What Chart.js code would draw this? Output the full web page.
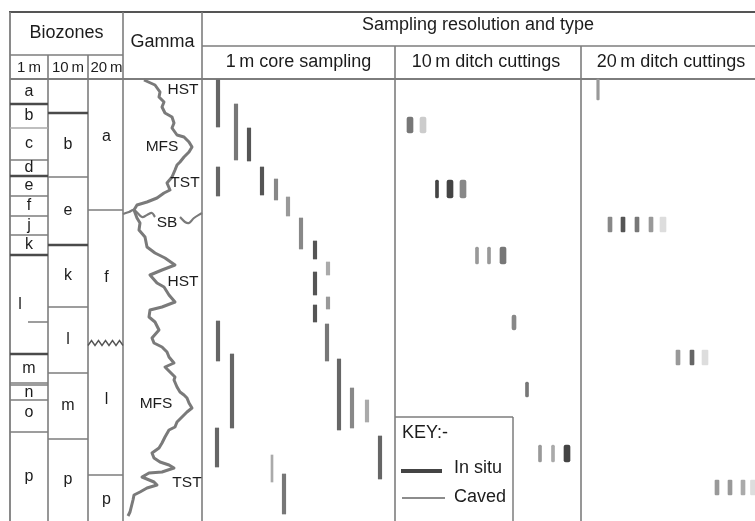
<!DOCTYPE html>
<html><head><meta charset="utf-8">
<script src="https://cdn.jsdelivr.net/npm/chart.js@4/dist/chart.umd.min.js"></script>
<style>html,body{margin:0;padding:0;background:#fff}#c{display:block}</style>
</head><body>
<canvas id="c" width="755" height="521"></canvas>
<script>
// ---------- DATA (depth units, 0 = top of logged section) ----------
const z1Names  = ['a','b','c','d','e','f','j','k','l','m','n','o','p'];
const z1Top    = [0,25,49,81,97,117,137,156,176,275,306,321,353];
const z1Base   = [25,49,81,97,117,137,156,176,275,304,321,353,442];
const z10Names = ['','b','e','k','l','m','p'];
const z10Top   = [0,34,98,166,228,294,360];
const z10Base  = [34,98,166,228,294,360,442];
const z20Names = ['a','f','l','p'];
const z20Top   = [0,131,264,396];
const z20Base  = [131,264,396,442];

// gamma-ray log (relative API units across the track) against depth
const gammaDepth = [1,6,13,18,23,28,34,38,44,49,56,58,63,68,73,78,83,86,91,98,104,111,114,119,123,126,131,139,144,151,158,168,174,179,186,191,196,204,208,216,223,228,231,238,243,251,259,264,268,273,278,284,288,293,298,301,308,313,316,319,324,329,333,338,343,348,351,358,364,369,374,379,383,386,389,393,394,398,403,406,409,413,416,421,433,437];
const gammaValue = [21,32,37,36,41,39,42,49,51,49,54,61,66,69,66,61,57,54,52,49,44,47,41,34,24,14,11,14,17,16,22,24,32,42,52,39,27,34,41,46,52,39,27,26,32,36,29,31,39,44,46,51,42,47,52,51,54,57,61,64,66,69,64,59,54,52,46,42,39,36,29,31,37,46,51,39,26,19,31,34,24,17,11,10,7,5];
// sequence boundary (SB) trace
const sbValue = [0,6,11,19,24,29,32,null,57,62,66,71,79];
const sbDepth = [135,133,131,138,136,134,138,null,138,143,144,139,134];
// sequence-stratigraphic picks
const seqLabels = ['HST','MFS','TST','SB','HST','MFS','TST'];
const seqDepth  = [11,68,104,144,203,325,404];

// 1 m core samples: top / base depth
const coreTop  = [1,25,49,88,88,100,118,139,162,183,193,218,226,245,242,275,280,309,321,349,357,376,395];
const coreBase = [48,81,82,117,116,121,137,170,180,196,216,230,243,282,282,349,351,349,343,388,400,403,435];
// 10 m ditch cuttings
const d10Top  = [38,38,101,101,101,168,168,168,236,303,366,366,366];
const d10Base = [54,54,119,119,119,185,185,185,251,318,383,383,383];
// 20 m ditch cuttings
const d20Top  = [0,138,138,138,138,138,271,271,271,401,401,401,401];
const d20Base = [21,153,153,153,153,153,286,286,286,416,416,416,416];

// ---------- LAYOUT / STYLE ----------
const COLS = {z1:[10,48], z10:[48,88], z20:[88,123], gamma:[123,202], core:[202,395], d10:[395,581], d20:[581,755]};
const coreTrack = [16,34,47,16,60,74,86,99,113,126,113,126,113,125,16,30,137,150,165,15,178,70,82];
const coreShade = ['#666','#777','#555','#666','#555','#888','#999','#888','#555','#aaa','#555','#999','#555','#777','#666','#666','#666','#888','#aaa','#666','#666','#aaa','#777'];
const coreWidth = [3.5,3.5,3.5,3.5,3.5,3.5,3.5,3.5,3.5,3.5,3.5,3.5,3.5,3.5,3.5,3.5,3.5,3.5,3.5,3.5,3.5,2,3.5];
const d10Track = [15,28,42,55,68,82,94,108,119,132,145,158,172];
const d10Shade = ['#777','#ccc','#444','#444','#888','#999','#999','#777','#888','#777','#999','#aaa','#444'];
const d10Width = [6,6,3,6,6,3,3,6,4,3,3,3,6];
const d20Track = [17,29,42,56,70,82,97,111,124,136,149,162,172];
const d20Shade = ['#999','#888','#555','#777','#999','#ddd','#999','#666','#ddd','#999','#999','#aaa','#ddd'];
const d20Width = [2.5,4,4,4,4,6,4,4,6,4,4,4,5];

const FONT = '"Liberation Sans", Arial, Helvetica, sans-serif';
const GRID = '#7d7d7d';
const DARK = '#4a4a4a';
const TXT = '#1c1c1c';

const datasets = [];
function addBars(track, tops, bases, shades, widths, col, radius) {
  track.forEach((t, i) => {
    datasets.push({
      type: 'bar',
      data: [{x: COLS[col][0] + t, y: [tops[i], bases[i]]}],
      backgroundColor: shades[i],
      barThickness: widths[i],
      grouped: false,
      borderWidth: 0,
      borderRadius: radius,
      borderSkipped: false
    });
  });
}
addBars(coreTrack, coreTop, coreBase, coreShade, coreWidth, 'core', 0);
addBars(d10Track, d10Top, d10Base, d10Shade, d10Width, 'd10', 2);
addBars(d20Track, d20Top, d20Base, d20Shade, d20Width, 'd20', 1);

datasets.push({
  type: 'line',
  data: gammaDepth.map((d, i) => ({x: COLS.gamma[0] + gammaValue[i], y: d})),
  borderColor: '#7a7a7a', borderWidth: 3, pointRadius: 0, tension: 0,
  borderJoinStyle: 'round', fill: false
});
datasets.push({
  type: 'line',
  data: sbValue.map((v, i) => ({x: COLS.gamma[0] + (v === null ? 45 : v), y: sbDepth[i]})),
  borderColor: '#7a7a7a', borderWidth: 2.2, pointRadius: 0, tension: 0.35,
  spanGaps: false, fill: false
});

function line(ctx, x1, y1, x2, y2, color, w) {
  ctx.beginPath(); ctx.strokeStyle = color; ctx.lineWidth = w;
  ctx.moveTo(x1, y1); ctx.lineTo(x2, y2); ctx.stroke();
}
function text(ctx, s, x, y, size, align) {
  ctx.font = size + 'px ' + FONT; ctx.fillStyle = TXT;
  ctx.textAlign = align || 'center'; ctx.textBaseline = 'middle';
  ctx.fillText(s, x, y);
}

const logPlugin = {
  id: 'stratLog',
  beforeDraw(chart) {
    const ctx = chart.ctx;
    ctx.save(); ctx.fillStyle = '#fff'; ctx.fillRect(0, 0, chart.width, chart.height); ctx.restore();
  },
  beforeDatasetsDraw(chart) {
    const ctx = chart.ctx, sx = chart.scales.x, sy = chart.scales.y;
    const px = v => sx.getPixelForValue(v), py = d => sy.getPixelForValue(d);
    const top = 12, bioSplit = 55, sampSplit = 46, head = py(0), bot = chart.height;
    ctx.save();
    ctx.lineCap = 'butt';
    // frame and header
    line(ctx, px(COLS.z1[0]) - 1, top, px(COLS.d20[1]), top, '#555', 2);
    line(ctx, px(COLS.z1[0]), top, px(COLS.z1[0]), bot, GRID, 1.8);
    line(ctx, px(COLS.z1[0]), bioSplit, px(COLS.gamma[0]), bioSplit, GRID, 1.6);
    line(ctx, px(COLS.core[0]), sampSplit, px(COLS.d20[1]), sampSplit, GRID, 1.6);
    line(ctx, px(COLS.z1[0]), head, px(COLS.d20[1]), head, GRID, 1.8);
    [COLS.z10[0], COLS.z20[0]].forEach(x => line(ctx, px(x), bioSplit, px(x), bot, GRID, 1.6));
    [COLS.gamma[0], COLS.core[0]].forEach(x => line(ctx, px(x), top, px(x), bot, GRID, 1.6));
    [COLS.d10[0], COLS.d20[0]].forEach(x => line(ctx, px(x), sampSplit, px(x), bot, GRID, 1.6));
    // biozone boundaries
    const bold1 = new Set([25, 97, 176, 275]);
    z1Base.forEach(b => {
      if (b >= 442) return;
      const bold = bold1.has(b);
      line(ctx, px(COLS.z1[0]), py(b), px(COLS.z1[1]), py(b), bold ? DARK : (b === 49 ? '#aaa' : GRID), bold ? 2.4 : 1.5);
    });
    line(ctx, px(COLS.z1[0]), py(306), px(COLS.z1[1]), py(306), GRID, 1.5);
    line(ctx, px(28), py(243), px(COLS.z1[1]), py(243), GRID, 1.5);
    const bold10 = new Set([34, 166]);
    z10Base.forEach(b => {
      if (b >= 442) return;
      const bold = bold10.has(b);
      line(ctx, px(COLS.z10[0]), py(b), px(COLS.z10[1]), py(b), bold ? DARK : GRID, bold ? 2.4 : 1.5);
    });
    z20Base.forEach(b => {
      if (b >= 442) return;
      if (b === 264) { // unconformable (wavy) boundary
        ctx.beginPath(); ctx.strokeStyle = '#555'; ctx.lineWidth = 1.4;
        const x0 = px(COLS.z20[0]), x1 = px(COLS.z20[1]), y = py(b);
        const n = 10;
        for (let k = 0; k <= n; k++) {
          const xx = x0 + (x1 - x0) * k / n, yy = y + (k % 2 ? -2.5 : 2.5);
          k ? ctx.lineTo(xx, yy) : ctx.moveTo(xx, yy);
        }
        ctx.stroke();
      } else {
        line(ctx, px(COLS.z20[0]), py(b), px(COLS.z20[1]), py(b), GRID, 1.6);
      }
    });
    // key box
    line(ctx, px(COLS.d10[0]), py(338), px(513), py(338), GRID, 1.5);
    line(ctx, px(513), py(338), px(513), bot, GRID, 1.5);
    ctx.restore();
  },
  afterDatasetsDraw(chart) {
    const ctx = chart.ctx, sx = chart.scales.x, sy = chart.scales.y;
    const px = v => sx.getPixelForValue(v), py = d => sy.getPixelForValue(d);
    ctx.save();
    // headers
    text(ctx, 'Biozones', (px(COLS.z1[0]) + px(COLS.gamma[0])) / 2, 33, 18);
    text(ctx, 'Gamma', (px(COLS.gamma[0]) + px(COLS.gamma[1])) / 2, 42, 18);
    text(ctx, '1\u2009m', (px(COLS.z1[0]) + px(COLS.z1[1])) / 2, 68, 15);
    text(ctx, '10\u2009m', (px(COLS.z10[0]) + px(COLS.z10[1])) / 2, 68, 15);
    text(ctx, '20\u2009m', (px(COLS.z20[0]) + px(COLS.z20[1])) / 2 + 1, 68, 15);
    text(ctx, 'Sampling resolution and type', 478, 25, 18);
    text(ctx, '1\u2009m core sampling', (px(COLS.core[0]) + px(COLS.core[1])) / 2, 62, 18);
    text(ctx, '10\u2009m ditch cuttings', 486, 62, 18);
    text(ctx, '20\u2009m ditch cuttings', 671, 62, 18);
    // biozone labels
    z1Names.forEach((n, i) => {
      const c = (z1Top[i] + z1Base[i]) / 2;
      text(ctx, n, n === 'l' ? px(20) : (px(COLS.z1[0]) + px(COLS.z1[1])) / 2, py(n === 'o' ? c - 3 : c), 16);
    });
    z10Names.forEach((n, i) => {
      text(ctx, n, (px(COLS.z10[0]) + px(COLS.z10[1])) / 2, py((z10Top[i] + z10Base[i]) / 2), 16);
    });
    const z20LabelDepth = [58, 199, 321, 421];
    z20Names.forEach((n, i) => {
      text(ctx, n, (px(COLS.z20[0]) + px(COLS.z20[1])) / 2 + 1, py(z20LabelDepth[i]), 16);
    });
    // sequence stratigraphy labels
    const seqX = [60, 39, 62, 44, 60, 33, 64];
    seqLabels.forEach((s, i) => text(ctx, s, px(COLS.gamma[0] + seqX[i]), py(seqDepth[i]), 15.5));
    // key
    text(ctx, 'KEY:-', px(402), py(354), 18, 'left');
    line(ctx, px(401), py(392), px(442), py(392), '#444', 4);
    text(ctx, 'In situ', px(454), py(389), 18, 'left');
    line(ctx, px(402), py(419), px(445), py(419), '#666', 1.5);
    text(ctx, 'Caved', px(454), py(418), 18, 'left');
    ctx.restore();
  }
};

new Chart(document.getElementById('c'), {
  type: 'line',
  data: { datasets },
  options: {
    responsive: false, devicePixelRatio: 1, animation: false,
    layout: { padding: 0 },
    plugins: { legend: { display: false }, tooltip: { enabled: false }, title: { display: false } },
    events: [],
    scales: {
      x: { type: 'linear', min: 0, max: 755, display: false, offset: false },
      y: { type: 'linear', min: -79, max: 442, reverse: true, display: false }
    }
  },
  plugins: [logPlugin]
});
</script>
</body></html>
